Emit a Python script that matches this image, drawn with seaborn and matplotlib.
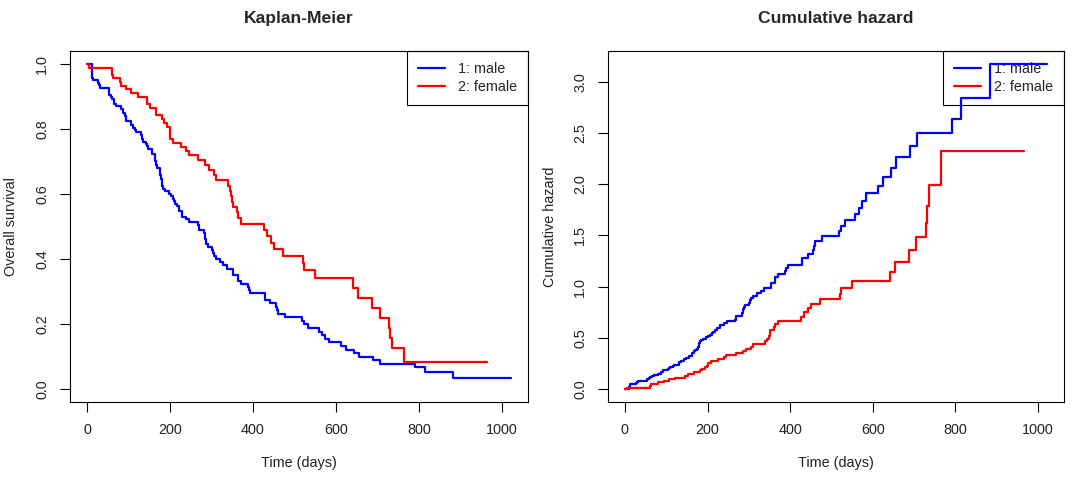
import numpy as np
import pandas as pd
import matplotlib
matplotlib.use('Agg')
import matplotlib.pyplot as plt
import seaborn as sns
from matplotlib.lines import Line2D

# Event table (time, number at risk, deaths)
male_time = [11, 12, 13, 15, 26, 30, 31, 53, 54, 59,
             60, 65, 71, 81, 88, 92, 93, 95, 105, 107,
             110, 116, 118, 131, 132, 135, 142, 144, 147, 156,
             163, 166, 170, 175, 176, 177, 179, 180, 181, 183,
             189, 197, 202, 207, 210, 212, 218, 222, 223, 229,
             230, 239, 246, 267, 269, 270, 283, 284, 285, 286,
             288, 291, 301, 303, 306, 310, 320, 329, 337, 353,
             363, 364, 371, 387, 390, 394, 428, 429, 442, 455,
             457, 460, 477, 519, 524, 533, 558, 567, 574, 583,
             613, 624, 643, 655, 689, 707, 791, 814, 883]
male_risk = [138, 135, 134, 132, 131, 130, 129, 128, 126, 125,
             124, 123, 121, 120, 119, 117, 116, 115, 114, 113,
             112, 111, 110, 109, 108, 106, 105, 104, 103, 102,
             100, 97, 95, 94, 93, 92, 91, 89, 88, 86,
             83, 80, 78, 77, 76, 75, 74, 72, 70, 67,
             66, 64, 63, 61, 60, 59, 57, 56, 54, 53,
             52, 51, 48, 46, 44, 43, 42, 41, 40, 39,
             37, 36, 35, 34, 33, 32, 29, 28, 27, 25,
             24, 22, 21, 20, 19, 18, 17, 16, 15, 14,
             13, 12, 11, 10, 9, 8, 7, 5, 3]
male_event = [3, 1, 2, 1, 1, 1, 1, 2, 1, 1,
              1, 2, 1, 1, 2, 1, 1, 1, 1, 1,
              1, 1, 1, 1, 2, 1, 1, 1, 1, 2,
              3, 2, 1, 1, 1, 1, 2, 1, 2, 1,
              1, 1, 1, 1, 1, 1, 1, 1, 1, 1,
              1, 1, 1, 1, 1, 1, 1, 1, 1, 1,
              1, 1, 1, 1, 1, 1, 1, 1, 1, 2,
              1, 1, 1, 1, 1, 1, 1, 1, 1, 1,
              1, 1, 1, 1, 1, 1, 1, 1, 1, 1,
              1, 1, 1, 1, 1, 1, 1, 1, 1]
male_end = 1022

female_time = [5, 60, 61, 62, 79, 81, 95, 107, 122, 145,
               153, 166, 167, 182, 186, 194, 199, 201, 208, 226,
               239, 245, 268, 285, 293, 305, 310, 340, 345, 348,
               350, 351, 361, 363, 371, 426, 433, 444, 450, 473,
               520, 524, 550, 641, 654, 687, 705, 728, 731, 735,
               765]
female_risk = [90, 89, 88, 87, 86, 85, 83, 81, 80, 79,
               77, 76, 75, 71, 70, 68, 67, 66, 62, 59,
               57, 54, 51, 47, 45, 43, 41, 39, 38, 37,
               36, 35, 33, 32, 30, 26, 25, 24, 23, 22,
               19, 18, 15, 11, 10, 9, 8, 7, 6, 5,
               3]
female_event = [1, 1, 1, 1, 1, 1, 1, 1, 1, 2,
                1, 1, 1, 1, 1, 1, 1, 2, 1, 1,
                1, 1, 1, 1, 1, 1, 1, 1, 1, 1,
                1, 1, 1, 1, 1, 1, 1, 1, 1, 1,
                1, 1, 1, 1, 1, 1, 1, 1, 1, 1,
                1]
female_end = 965

groups = ['1: male', '2: female']
colors = {'1: male': '#0000FF', '2: female': '#FF0000'}


def curve(label, t, n, d, end):
    n = np.array(n, float)
    d = np.array(d, float)
    surv = np.cumprod(1 - d / n)
    haz = np.cumsum(d / n)
    return pd.DataFrame({
        'time': [0] + list(t) + [end],
        'surv': [1.0] + list(surv) + [surv[-1]],
        'cumhaz': [0.0] + list(haz) + [haz[-1]],
        'sex': label,
    })


df = pd.concat([curve(groups[0], male_time, male_risk, male_event, male_end),
                curve(groups[1], female_time, female_risk, female_event, female_end)])

sns.set_theme(style='white')
plt.rcParams['font.family'] = ['Liberation Sans', 'DejaVu Sans']
fs = 10.4

fig = plt.figure(figsize=(10.8, 4.84), dpi=100)
ax1 = fig.add_axes([0.0648, 0.1694, 0.4241, 0.7252])
ax2 = fig.add_axes([0.5630, 0.1694, 0.4222, 0.7252])

panels = [(ax1, 'surv', 'Kaplan-Meier', 'Overall survival', np.arange(0, 1.01, 0.2)),
          (ax2, 'cumhaz', 'Cumulative hazard', 'Cumulative hazard', np.arange(0, 3.01, 0.5))]

for ax, col, title, ylab, yt in panels:
    sns.lineplot(data=df, x='time', y=col, hue='sex', palette=colors,
                 drawstyle='steps-post', estimator=None, sort=False,
                 lw=1.6, ax=ax, legend=False, zorder=3)
    ymax = df[col].max()
    ax.set_xlim(-0.04 * 1022, 1.04 * 1022)
    ax.set_ylim(-0.04 * ymax, 1.04 * ymax)
    ax.set_xticks(np.arange(0, 1001, 200))
    ax.set_xticklabels([str(v) for v in range(0, 1001, 200)], fontsize=fs)
    ax.set_yticks(yt)
    ax.set_yticklabels(['%.1f' % v for v in yt], rotation=90, va='center', fontsize=fs)
    ax.tick_params(bottom=True, left=True, direction='out', length=7, width=0.8,
                   color='black', pad=8, labelcolor='#222222')
    for s in ax.spines.values():
        s.set_color('black')
        s.set_linewidth(0.8)
    ax.set_xlabel('Time (days)', fontsize=fs, labelpad=14, color='#222222')
    ax.set_ylabel(ylab, fontsize=fs, labelpad=12, color='#222222')
    ax.set_title(title, fontsize=12.6, fontweight='bold', pad=20)
    handles = [Line2D([], [], color=colors[g], lw=1.6) for g in groups]
    leg = ax.legend(handles, groups, loc='upper right', borderaxespad=0,
                    fancybox=False, framealpha=1, facecolor='none', edgecolor='black',
                    fontsize=fs, handlelength=1.9, handletextpad=0.9,
                    labelspacing=0.3, borderpad=0.75)
    leg.get_frame().set_linewidth(0.8)
    leg.set_zorder(1)

fig.savefig('out.png', dpi=100)
